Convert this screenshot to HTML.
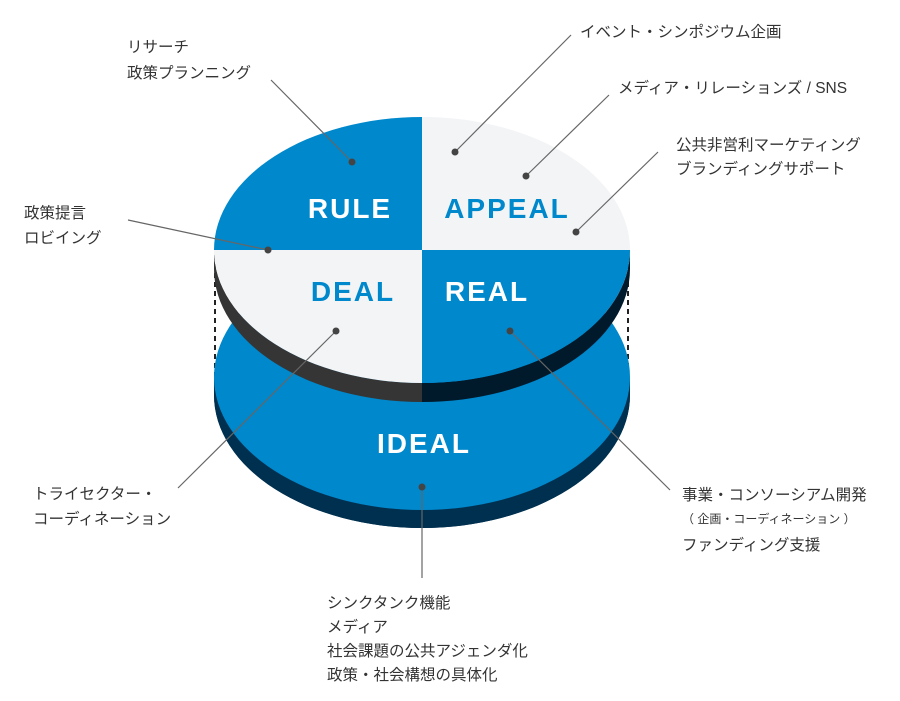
<!DOCTYPE html>
<html><head><meta charset="utf-8"><style>
html,body{margin:0;padding:0;background:#fff;}
svg{display:block;}
.t{font-family:"Liberation Sans","Noto Sans CJK JP",sans-serif;font-size:15.5px;fill:#333;}
.b{font-family:"Liberation Sans","Noto Sans CJK JP",sans-serif;font-size:28px;font-weight:bold;letter-spacing:2px;}
</style></head><body>
<svg width="900" height="701" viewBox="0 0 900 701" xmlns="http://www.w3.org/2000/svg">
<defs>
<clipPath id="top"><ellipse cx="422" cy="250" rx="208" ry="133"/></clipPath>
</defs>
<line x1="215" y1="255" x2="215" y2="385" stroke="#222" stroke-width="2" stroke-dasharray="5,4"/>
<line x1="628" y1="255" x2="628" y2="385" stroke="#222" stroke-width="2" stroke-dasharray="5,4"/>
<path d="M214,377 L214,395 A208,133 0 0 0 630,395 L630,377 Z" fill="#003050"/>
<ellipse cx="422" cy="395" rx="208" ry="133" fill="#003050"/>
<ellipse cx="422" cy="377" rx="208" ry="133" fill="#0088cc"/>
<path d="M214,250 L214,269 A208,133 0 0 0 422,402 L422,383 A208,133 0 0 1 214,250 Z" fill="#353535"/>
<path d="M630,250 L630,269 A208,133 0 0 1 422,402 L422,383 A208,133 0 0 0 630,250 Z" fill="#001a2c"/>
<g clip-path="url(#top)">
<rect x="200" y="100" width="222" height="150" fill="#0088cc"/>
<rect x="422" y="100" width="220" height="150" fill="#f3f4f6"/>
<rect x="200" y="250" width="222" height="150" fill="#f3f4f6"/>
<rect x="422" y="250" width="220" height="150" fill="#0088cc"/>
</g>
<text class="b" x="350" y="218" fill="#fff" text-anchor="middle">RULE</text>
<text class="b" x="507" y="218" fill="#0088cc" text-anchor="middle">APPEAL</text>
<text class="b" x="353" y="301" fill="#0088cc" text-anchor="middle">DEAL</text>
<text class="b" x="487" y="301" fill="#fff" text-anchor="middle">REAL</text>
<text class="b" x="424" y="453" fill="#fff" text-anchor="middle">IDEAL</text>
<g stroke="#666" stroke-width="1.2">
<line x1="271" y1="80" x2="352" y2="162"/>
<line x1="571" y1="35" x2="455" y2="152"/>
<line x1="609" y1="95" x2="526" y2="176"/>
<line x1="658" y1="152" x2="576" y2="232"/>
<line x1="128" y1="220" x2="268" y2="250"/>
<line x1="178" y1="488" x2="336" y2="331"/>
<line x1="510" y1="331" x2="670" y2="490"/>
<line x1="422" y1="487" x2="422" y2="578"/>
</g>
<g fill="#444">
<circle cx="352" cy="162" r="3.5"/>
<circle cx="455" cy="152" r="3.5"/>
<circle cx="526" cy="176" r="3.5"/>
<circle cx="576" cy="232" r="3.5"/>
<circle cx="268" cy="250" r="3.5"/>
<circle cx="336" cy="331" r="3.5"/>
<circle cx="510" cy="331" r="3.5"/>
<circle cx="422" cy="487" r="3.5"/>
</g>
<text class="t" x="127" y="52">リサーチ</text>
<text class="t" x="127" y="78">政策プランニング</text>
<text class="t" x="580" y="37">イベント・シンポジウム企画</text>
<text class="t" x="618" y="93">メディア・リレーションズ / SNS</text>
<text class="t" x="676" y="150">公共非営利マーケティング</text>
<text class="t" x="676" y="174">ブランディングサポート</text>
<text class="t" x="24" y="218">政策提言</text>
<text class="t" x="24" y="243">ロビイング</text>
<text class="t" x="33" y="499">トライセクター・</text>
<text class="t" x="33" y="524">コーディネーション</text>
<text class="t" x="682" y="500">事業・コンソーシアム開発</text>
<text class="t" x="682" y="523" style="font-size:12px">（ 企画・コーディネーション ）</text>
<text class="t" x="682" y="550">ファンディング支援</text>
<text class="t" x="327" y="608">シンクタンク機能</text>
<text class="t" x="327" y="632">メディア</text>
<text class="t" x="327" y="656">社会課題の公共アジェンダ化</text>
<text class="t" x="327" y="680">政策・社会構想の具体化</text>
</svg>
</body></html>
